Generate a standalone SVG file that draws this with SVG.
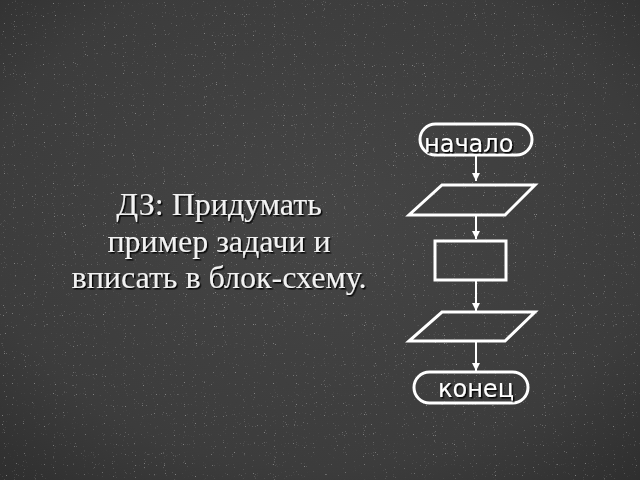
<svg xmlns="http://www.w3.org/2000/svg" width="640" height="480" viewBox="0 0 640 480">
  <defs>
    <radialGradient id="bg" cx="50%" cy="45%" r="75%">
      <stop offset="0" stop-color="#454545"/>
      <stop offset="0.7" stop-color="#3c3c3c"/>
      <stop offset="1" stop-color="#2e2e2e"/>
    </radialGradient>
    <filter id="noise" x="0" y="0" width="100%" height="100%">
      <feTurbulence type="fractalNoise" baseFrequency="0.9" numOctaves="1" seed="3" result="t"/>
      <feColorMatrix in="t" type="matrix" values="0 0 0 0 1  0 0 0 0 1  0 0 0 0 1  0 0 0 9 -6.2" result="s"/>
      <feComposite in="s" in2="SourceGraphic" operator="in"/>
    </filter>
    <filter id="shadow" x="-10%" y="-20%" width="120%" height="140%">
      <feDropShadow dx="1.5" dy="1.5" stdDeviation="0.6" flood-color="#000" flood-opacity="0.9"/>
    </filter>
    <marker id="arr" viewBox="0 0 10 10" refX="10" refY="5" markerWidth="10" markerHeight="8" orient="auto" markerUnits="userSpaceOnUse">
      <path d="M0,0 L10,5 L0,10 z" fill="#ffffff"/>
    </marker>
    <style>
      .shape { fill: none; stroke: #ffffff; stroke-width: 3; stroke-linejoin: miter; }
      .conn { stroke: #ffffff; stroke-width: 2; fill: none; }
      .lbl { font-family: "DejaVu Sans", "Noto Sans", sans-serif; font-size: 24px; fill: #ffffff; }
      .title { font-family: "Liberation Serif", "Times New Roman", serif; font-size: 32px; fill: #f2f2f2; text-anchor: middle; }
    </style>
  </defs>
  <rect x="0" y="0" width="640" height="480" fill="url(#bg)"/>
  <rect x="0" y="0" width="640" height="480" fill="#ffffff" filter="url(#noise)" opacity="0.35"/>

  <g id="title" filter="url(#shadow)">
    <text class="title" x="219" y="215">ДЗ: Придумать</text>
    <text class="title" x="219" y="252">пример задачи и</text>
    <text class="title" x="219" y="288">вписать в блок-схему.</text>
  </g>

  <g id="connectors">
    <line class="conn" x1="476" y1="155" x2="476" y2="181" marker-end="url(#arr)"/>
    <line class="conn" x1="476" y1="215" x2="476" y2="239" marker-end="url(#arr)"/>
    <line class="conn" x1="476" y1="280" x2="476" y2="311" marker-end="url(#arr)"/>
    <line class="conn" x1="476" y1="341" x2="476" y2="371" marker-end="url(#arr)"/>
  </g>

  <g id="start">
    <rect class="shape" x="420" y="124" width="112" height="31" rx="15.5" ry="15.5"/>
    <text class="lbl" x="424" y="152" filter="url(#shadow)">начало</text>
  </g>
  <g id="input">
    <polygon class="shape" points="442,185 535,185 505,215 409,215"/>
  </g>
  <g id="process">
    <rect class="shape" x="435" y="241" width="71" height="39"/>
  </g>
  <g id="output">
    <polygon class="shape" points="442,312 535,312 505,341 409,341"/>
  </g>
  <g id="end">
    <rect class="shape" x="414" y="372" width="114" height="31" rx="15.5" ry="15.5"/>
    <text class="lbl" x="438" y="397" filter="url(#shadow)">конец</text>
  </g>
</svg>
